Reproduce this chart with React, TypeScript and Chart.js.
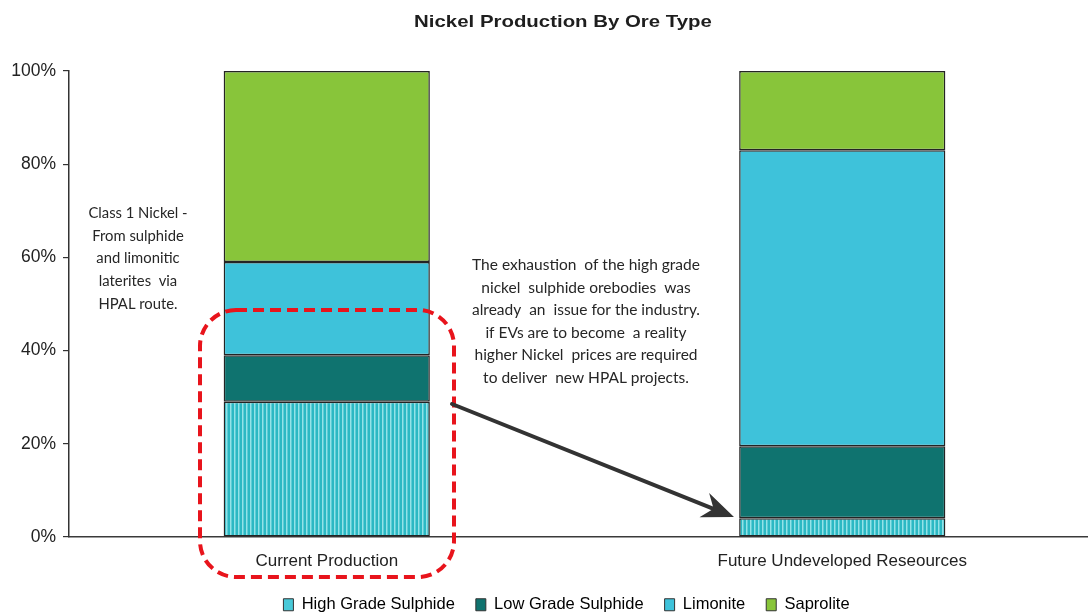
import { useEffect, useRef } from "react";
import { Chart, registerables } from "chart.js";

Chart.register(...registerables);

// Categories and stacked shares (% of nickel production)
const categories = ["Current Production", "Future Undeveloped Reseources"];
const seriesNames = ["High Grade Sulphide", "Low Grade Sulphide", "Limonite", "Saprolite"];
const highGradeSulphide = [29, 4];
const lowGradeSulphide = [10, 15.5];
const limonite = [20, 63.5];
const saprolite = [41, 17];
const yTickValues = [0, 20, 40, 60, 80, 100];

const titleText = "Nickel Production By Ore Type";
const leftNote = ["Class 1 Nickel -", "From sulphide", "and limonitic", "laterites  via", "HPAL route."];
const rightNote = [
  "The exhaustion  of the high grade",
  "nickel  sulphide orebodies  was",
  "already  an  issue for the industry.",
  "if EVs are to become  a reality",
  "higher Nickel  prices are required",
  "to deliver  new HPAL projects.",
];

const COLORS = {
  lowGrade: "#0f736f",
  limonite: "#3ec2da",
  saprolite: "#88c53a",
  highGradeSolid: "#48c9d8",
  edge: "#242424",
};

// Vertical hatching used for the high grade sulphide segments
function makeStripePattern(ctx: CanvasRenderingContext2D): CanvasPattern | string {
  const p = document.createElement("canvas");
  p.width = 4;
  p.height = 4;
  const pc = p.getContext("2d");
  if (!pc) return COLORS.highGradeSolid;
  pc.fillStyle = "#2bb8c3";
  pc.fillRect(0, 0, 2, 4);
  pc.fillStyle = "#93e2e7";
  pc.fillRect(2, 0, 1, 4);
  pc.fillStyle = "#5ccdd6";
  pc.fillRect(3, 0, 1, 4);
  return ctx.createPattern(p, "repeat") || COLORS.highGradeSolid;
}

// Legend row is centred a little right of the canvas middle
const legendShiftPlugin = {
  id: "legendShift",
  afterLayout(chart: any) {
    if (chart.legend) chart.legend.left = 33;
  },
};

const notesPlugin = {
  id: "notes",
  afterDraw(chart: Chart) {
    const ctx = chart.ctx;
    ctx.save();

    // title
    ctx.fillStyle = "#1e1e1e";
    ctx.font = "bold 17px 'Liberation Sans', Arial, sans-serif";
    ctx.textAlign = "center";
    ctx.textBaseline = "middle";
    ctx.save();
    ctx.translate(563, 22);
    ctx.scale(1.2, 1);
    ctx.fillText(titleText, 0, 0);
    ctx.restore();

    // side notes
    ctx.fillStyle = "#262626";
    ctx.font = "14.8px Lato, 'Open Sans', sans-serif";
    leftNote.forEach((line, i) => ctx.fillText(line, 138, 213 + i * 22.8));
    ctx.font = "15.5px Lato, 'Open Sans', sans-serif";
    rightNote.forEach((line, i) => ctx.fillText(line, 586, 265 + i * 22.6));

    // red dashed rounded frame around current production
    ctx.strokeStyle = "#e8141c";
    ctx.lineWidth = 4;
    ctx.setLineDash([11, 6]);
    ctx.beginPath();
    ctx.roundRect(200, 310, 254, 267, 36);
    ctx.stroke();
    ctx.setLineDash([]);

    // arrow toward the future bar
    const x0 = 452, y0 = 404, tx = 734, ty = 517;
    const dx = tx - x0, dy = ty - y0;
    const len = Math.hypot(dx, dy);
    const ux = dx / len, uy = dy / len;
    const px = -uy, py = ux;
    const headLen = 32, halfW = 13, notch = 22;
    const bx = tx - headLen * ux, by = ty - headLen * uy;
    const nx = tx - notch * ux, ny = ty - notch * uy;
    ctx.strokeStyle = "#333333";
    ctx.fillStyle = "#333333";
    ctx.lineWidth = 4;
    ctx.lineCap = "round";
    ctx.beginPath();
    ctx.moveTo(x0, y0);
    ctx.lineTo(nx, ny);
    ctx.stroke();
    ctx.beginPath();
    ctx.moveTo(tx, ty);
    ctx.lineTo(bx + halfW * px, by + halfW * py);
    ctx.lineTo(nx, ny);
    ctx.lineTo(bx - halfW * px, by - halfW * py);
    ctx.closePath();
    ctx.fill();

    ctx.restore();
  },
};

export default function App() {
  const canvasRef = useRef<HTMLCanvasElement | null>(null);

  useEffect(() => {
    const canvas = canvasRef.current;
    if (!canvas) return;
    const ctx = canvas.getContext("2d");
    if (!ctx) return;
    const stripes = makeStripePattern(ctx);
    const legendFills = [COLORS.highGradeSolid, COLORS.lowGrade, COLORS.limonite, COLORS.saprolite];

    const mk = (label: string, data: number[], bg: CanvasPattern | string) => ({
      label,
      data,
      backgroundColor: bg,
      borderColor: COLORS.edge,
      borderWidth: 1.5,
      borderSkipped: false,
      barPercentage: 0.5,
      categoryPercentage: 0.8,
    });

    const chart = new Chart(ctx, {
      type: "bar",
      data: {
        labels: categories,
        datasets: [
          mk(seriesNames[0], highGradeSulphide, stripes),
          mk(seriesNames[1], lowGradeSulphide, COLORS.lowGrade),
          mk(seriesNames[2], limonite, COLORS.limonite),
          mk(seriesNames[3], saprolite, COLORS.saprolite),
        ],
      },
      options: {
        responsive: false,
        animation: false,
        layout: { padding: { left: 0, right: 0, top: 71, bottom: 0 } },
        plugins: {
          title: { display: false },
          tooltip: { enabled: false },
          legend: {
            position: "bottom",
            labels: {
              boxWidth: 10,
              boxHeight: 12,
              padding: 21,
              color: "#222",
              font: { family: "'Liberation Sans', Arial, sans-serif", size: 16.5 },
              generateLabels: (c: Chart) =>
                c.data.datasets.map((ds, i) => ({
                  text: ds.label as string,
                  fillStyle: legendFills[i],
                  strokeStyle: "#333",
                  lineWidth: 1,
                  hidden: false,
                  datasetIndex: i,
                })),
            },
          },
        },
        scales: {
          x: {
            stacked: true,
            grid: { display: false, drawTicks: false },
            border: { display: true, color: "#3a3a3a", width: 1.5 },
            ticks: {
              color: "#222",
              padding: 14,
              font: { family: "'Liberation Sans', Arial, sans-serif", size: 17 },
            },
            afterFit: (s: any) => {
              s.height = 38.5;
            },
          },
          y: {
            stacked: true,
            min: 0,
            max: 100,
            afterBuildTicks: (s: any) => {
              s.ticks = yTickValues.map((v) => ({ value: v }));
            },
            grid: {
              display: true,
              drawOnChartArea: false,
              drawTicks: true,
              tickLength: 6,
              color: "#333",
              lineWidth: 1.2,
            },
            border: { display: true, color: "#333", width: 1.5 },
            ticks: {
              color: "#222",
              padding: 7,
              font: { family: "'Liberation Sans', Arial, sans-serif", size: 17.5 },
              callback: (v: any) => `${v}%`,
            },
            afterFit: (s: any) => {
              s.width = 69;
            },
          },
        },
      },
      plugins: [legendShiftPlugin, notesPlugin],
    });

    return () => chart.destroy();
  }, []);

  return (
    <div
      style={{
        position: "fixed",
        left: 0,
        top: 0,
        width: 1088,
        height: 613,
        overflow: "hidden",
        background: "#ffffff",
      }}
    >
      <canvas ref={canvasRef} width={1100} height={623} style={{ display: "block" }} />
    </div>
  );
}
